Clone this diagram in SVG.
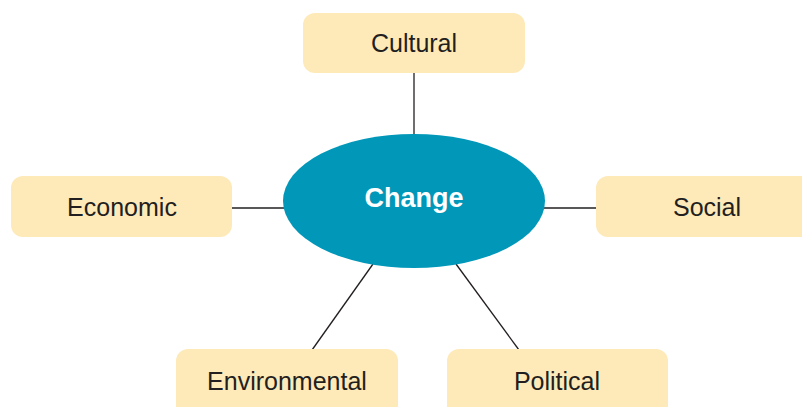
<svg xmlns="http://www.w3.org/2000/svg" width="802" height="407" viewBox="0 0 802 407">
  <style>
    .box { fill: #feeab8; }
    .label { font-family: "Liberation Sans", Arial, sans-serif; font-size: 25px; fill: #231f20; text-anchor: middle; }
    .link { stroke: #231f20; stroke-width: 1.3; fill: none; }
    .hub { fill: #0097b9; }
    .hub-label { font-family: "Liberation Sans", Arial, sans-serif; font-size: 27px; font-weight: bold; fill: #ffffff; text-anchor: middle; }
  </style>
  <rect width="802" height="407" fill="#ffffff"/>

  <g id="connectors">
    <line class="link" x1="414" y1="73" x2="414" y2="134"/>
    <line class="link" x1="232" y1="208" x2="285" y2="208"/>
    <line class="link" x1="544" y1="208" x2="597" y2="208"/>
    <line class="link" x1="373" y1="264" x2="312" y2="350"/>
    <line class="link" x1="456" y1="264" x2="519" y2="350"/>
  </g>

  <g id="change">
    <ellipse class="hub" cx="414" cy="201" rx="131" ry="67"/>
    <text class="hub-label" x="414" y="207">Change</text>
  </g>

  <g id="cultural">
    <rect class="box" x="303" y="13" width="222" height="60" rx="12"/>
    <text class="label" x="414" y="52">Cultural</text>
  </g>

  <g id="economic">
    <rect class="box" x="11" y="176" width="221" height="61" rx="12"/>
    <text class="label" x="122" y="216">Economic</text>
  </g>

  <g id="social">
    <rect class="box" x="596" y="176" width="222" height="61" rx="12"/>
    <text class="label" x="707" y="216">Social</text>
  </g>

  <g id="environmental">
    <rect class="box" x="176" y="349" width="222" height="70" rx="12"/>
    <text class="label" x="287" y="390">Environmental</text>
  </g>

  <g id="political">
    <rect class="box" x="447" y="349" width="221" height="70" rx="12"/>
    <text class="label" x="557" y="390">Political</text>
  </g>
</svg>
